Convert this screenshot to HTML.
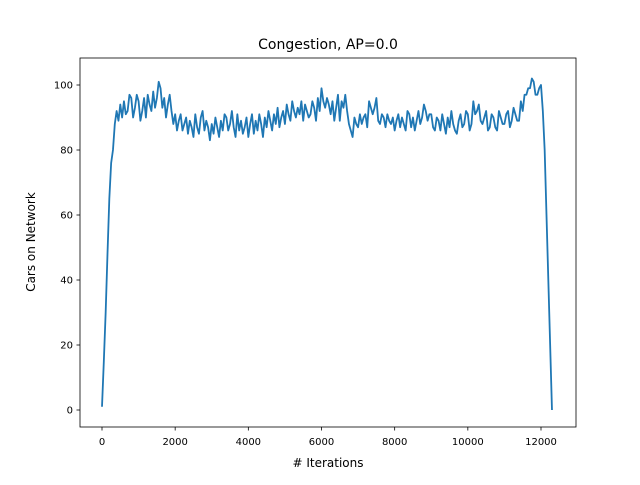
<!DOCTYPE html>
<html><head><meta charset="utf-8"><style>
body{margin:0;background:#fff}
svg text{font-family:"DejaVu Sans","Liberation Sans",sans-serif;fill:#000}
</style></head><body>
<svg id="chart" width="640" height="480" viewBox="0 0 640 480" xmlns="http://www.w3.org/2000/svg">
<rect width="640" height="480" fill="#fff"/>
<text x="328" y="49" font-size="14" text-anchor="middle">Congestion, AP=0.0</text>
<text x="328" y="467" font-size="12" text-anchor="middle"># Iterations</text>
<text x="35" y="242" font-size="12" text-anchor="middle" transform="rotate(-90 35 242)">Cars on Network</text>
<g id="plot"></g>
<rect x="80" y="58" width="496" height="369" fill="none" stroke="#000" stroke-width="0.8"/>
</svg>
<script>
const xTicks=[0,2000,4000,6000,8000,10000,12000];
const yTicks=[0,20,40,60,80,100];
const iterStep=50;
const cars=[1,15,30,48,65,76,80,88,92,89,94,90,95,91,92,97,96,90,93,97,95,89,92,96,90,97,94,92,98,93,96,101,99,93,96,90,94,97,92,88,91,86,89,91,86,88,90,85,89,87,84,91,87,85,90,92,86,89,87,83,88,85,90,87,84,89,86,91,90,86,88,92,87,84,91,86,89,85,87,90,84,88,91,85,89,86,91,88,84,90,87,92,89,86,91,88,93,87,90,92,88,94,91,89,95,92,90,93,91,95,89,94,92,90,91,95,93,89,96,92,99,95,93,96,94,91,95,89,93,97,89,95,93,97,92,88,86,84,90,88,87,91,88,90,91,87,95,93,91,93,96,89,88,91,90,87,91,89,88,90,86,89,91,87,90,88,86,92,91,87,90,86,89,92,88,90,94,92,89,91,91,87,86,90,89,86,91,88,85,90,87,92,88,86,85,89,91,87,88,92,91,86,88,95,91,92,94,89,88,90,92,86,87,91,90,87,86,92,90,88,88,91,92,87,89,93,91,89,89,95,92,97,97,99,99,102,101,97,97,99,100,92,80,60,40,20,0];
const X=v=>102+v*(541-102)/12000;
const Y=v=>410-v*3.25;
const g=document.getElementById('plot');
const NS='http://www.w3.org/2000/svg';
function mk(t,a){const e=document.createElementNS(NS,t);for(const k in a)e.setAttribute(k,a[k]);g.appendChild(e);return e;}
xTicks.forEach(t=>{
 const l=mk('line',{x1:X(t),x2:X(t),y1:427,y2:430.5,stroke:'#000','stroke-width':0.8});
 
 
 const tx=mk('text',{x:X(t),y:445,'font-size':10,'text-anchor':'middle'});tx.textContent=t;
 
 
});
yTicks.forEach(t=>{
 const l=mk('line',{x1:76.5,x2:80,y1:Y(t),y2:Y(t),stroke:'#000','stroke-width':0.8});
 
 
 const tx=mk('text',{x:73,y:Y(t)+3.5,'font-size':10,'text-anchor':'end'});tx.textContent=t;
 
 
});
const pts=cars.map((v,i)=>X(i*iterStep).toFixed(2)+','+Y(v).toFixed(2)).join(' ');
const p=mk('polyline',{points:pts,fill:'none',stroke:'#1f77b4','stroke-width':1.8,'stroke-linejoin':'round'});


</script>
</body></html>
